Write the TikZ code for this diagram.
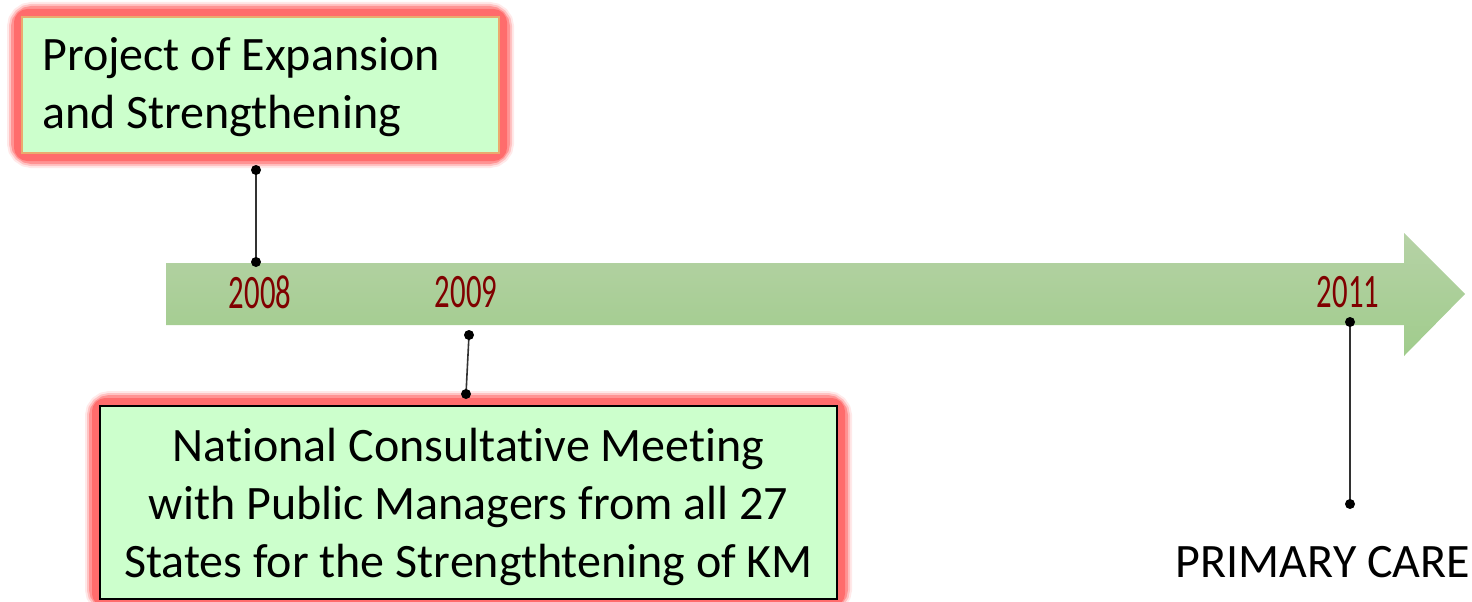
\documentclass[tikz,border=0pt]{standalone}
\usepackage{fontspec}
\setmainfont[Ligatures=NoCommon]{Carlito}
\newfontfamily\yearfont{Carlito}
\usetikzlibrary{calc}
\definecolor{boxfill}{RGB}{204,255,204}
\definecolor{glowred}{RGB}{255,108,108}
\definecolor{edgeorange}{RGB}{235,170,110}
\definecolor{yearred}{RGB}{128,0,0}
\definecolor{arrowtop}{RGB}{182,210,166}
\definecolor{arrowbot}{RGB}{160,204,140}
\definecolor{linkgray}{RGB}{50,50,50}
\tikzset{
  x=1pt,y=-1pt,
  eventbox/.style={rectangle, fill=boxfill, line width=2pt, inner sep=0pt},
  eventtext/.style={inner sep=0pt, font=\fontsize{48}{58}\selectfont},
  yearlabel/.style={text=yearred, inner sep=0pt},
  link/.style={draw=linkgray, line width=1.6pt},
  dotmark/.style={fill=black},
}
\newcommand{\glowbox}[4]{%
  \foreach \w/\o in {30/0.15,26/0.3,22/0.55}{
    \draw[glowred, line width=\w pt, opacity=\o, rounded corners=10pt] (#1,#2) rectangle (#3,#4);
  }
  \draw[glowred, line width=16pt, rounded corners=6pt] (#1,#2) rectangle (#3,#4);}
\newcommand{\yr}[1]{\scalebox{0.64}[1]{\yearfont\fontsize{48}{48}\selectfont #1}}
\begin{document}
\begin{tikzpicture}
\useasboundingbox (0,0) rectangle (1472,602);
\clip (0,0) rectangle (1472,602);
% arrow
\shade[top color=arrowtop, bottom color=arrowbot]
  (166,263) -- (1404,263) -- (1404,233) -- (1465,294) -- (1404,356) -- (1404,325) -- (166,325) -- cycle;
\node[yearlabel] (y2008) at (260,292) {\yr{2008}};
\node[yearlabel] (y2009) at (466,292) {\yr{2009}};
\node[yearlabel] (y2011) at (1348,292) {\yr{2011}};
% top box
\glowbox{22}{17}{499}{153}
\node[eventbox, draw=edgeorange, minimum width=477pt, minimum height=136pt] (topbox) at (260.5,85) {};
\node[eventtext, anchor=base west, align=left] (toptext) at (42,128) {Project of Expansion\\and Strengthening};
% bottom box
\glowbox{100}{406}{837}{599}
\node[eventbox, draw=black, minimum width=737pt, minimum height=193pt] (botbox) at (468.5,502.5) {};
\node[eventtext, align=center] (bottext) at (468.5,507) {National Consultative Meeting\\with Public Managers from all 27\\States for the Strengthtening of KM};
% primary care
\node[eventtext, anchor=base] (pcare) at (1323,577) {PRIMARY CARE};
% connectors
\coordinate (a1) at (256,170);
\coordinate (a2) at (256,262);
\coordinate (b1) at (469,335);
\coordinate (b2) at (466,394);
\coordinate (c1) at (1350,322);
\coordinate (c2) at (1350,504);
\draw[link] (a1) -- (a2);
\draw[link] (b1) -- (b2);
\draw[link] (c1) -- (c2);
\foreach \p in {a1,a2,b1,b2,c1,c2}{\fill[dotmark] (\p) circle (5pt);}
\end{tikzpicture}
\end{document}
